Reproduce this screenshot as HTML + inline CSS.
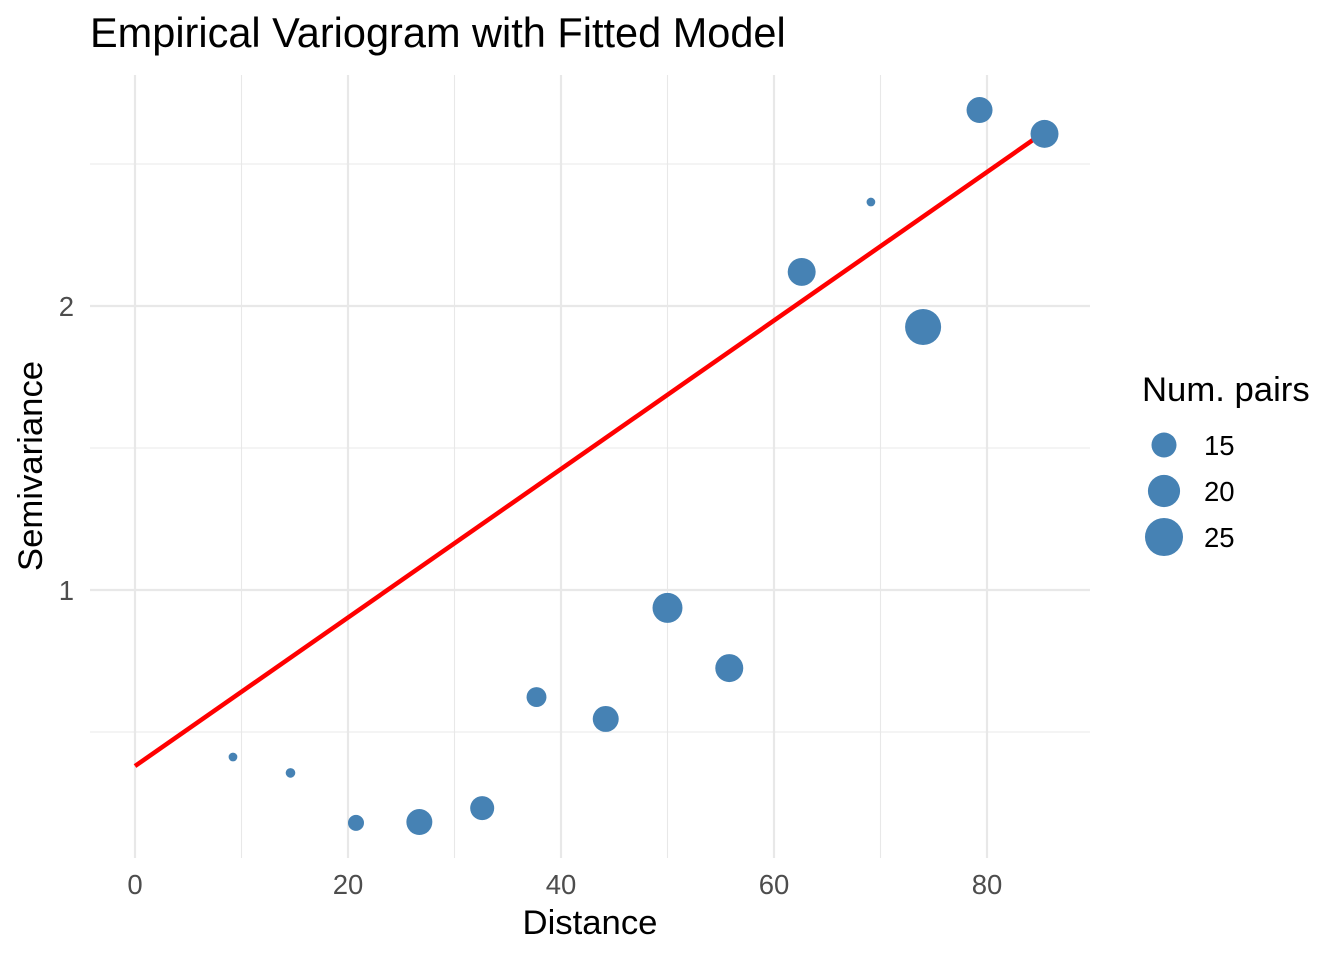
<!DOCTYPE html>
<html><head><meta charset="utf-8"><style>
html,body{margin:0;padding:0;background:#fff;}
svg text{font-family:"Liberation Sans",sans-serif;}
</style></head><body>
<svg id="chart" width="1344" height="960" xmlns="http://www.w3.org/2000/svg">
<text x="90" y="47" font-size="41.5" fill="#000">Empirical Variogram with Fitted Model</text>
<g id="grid"></g>
<g id="line"></g>
<g id="points"></g>
<g id="axes"></g>
<text x="590" y="934" font-size="34.7" text-anchor="middle" fill="#000">Distance</text>
<text transform="translate(42,466) rotate(-90)" font-size="34.7" text-anchor="middle" fill="#000">Semivariance</text>
<g id="legend">
<text x="1142" y="401" font-size="34.7" fill="#000">Num. pairs</text>
</g>
</svg>
<script>
const distances=[9.2,14.6,20.75,26.7,32.6,37.7,44.2,50.0,55.8,62.6,69.1,74.0,79.3,85.4];
const gammas=[0.412,0.356,0.18,0.183,0.232,0.623,0.546,0.937,0.725,2.12,2.366,1.926,2.69,2.606];
const pairs=[8.3,8.5,10.5,15.6,14.4,12.2,15.6,18.3,16.9,16.9,8.3,23.2,15.6,16.9];
const lineX=[0,85.4];
const lineY=[0.38,2.613];
const xTicks=[0,20,40,60,80];
const yTicks=[1,2];
const legendVals=[15,20,25];

const NS="http://www.w3.org/2000/svg";
const X=v=>135+v*10.65;
const Y=v=>874-v*284;
const R=n=>Math.sqrt(Math.max(20.5*n-151,4));
function mk(tag,attrs,parent){const e=document.createElementNS(NS,tag);for(const k in attrs)e.setAttribute(k,attrs[k]);document.getElementById(parent).appendChild(e);return e;}

for(let v=0;v<=90;v+=10){if(X(v)>1090)break;
 const g=mk('line',{x1:X(v),x2:X(v),y1:75,y2:858,stroke:'#e8e8e8','stroke-width':v%20===0?2.2:1.1},'grid');
 
 }
for(let v=0.5;v<=2.5;v+=0.5){
 const g=mk('line',{x1:90,x2:1090,y1:Y(v),y2:Y(v),stroke:'#e8e8e8','stroke-width':(v%1===0)?2.2:1.1},'grid');
 
 }
xTicks.forEach(t=>{const e=mk('text',{x:X(t),y:894,'font-size':27.5,fill:'#4d4d4d','text-anchor':'middle'},'axes');e.textContent=t;
 
 });
yTicks.forEach(t=>{const e=mk('text',{x:74,y:Y(t)+10,'font-size':27.5,fill:'#4d4d4d','text-anchor':'end'},'axes');e.textContent=t;
 
 });
const l=mk('line',{x1:X(lineX[0]),y1:Y(lineY[0]),x2:X(lineX[1]),y2:Y(lineY[1]),stroke:'#ff0000','stroke-width':4.5},'line');


distances.forEach((d,i)=>{const c=mk('circle',{cx:X(d),cy:Y(gammas[i]),r:R(pairs[i]),fill:'#4682b4'},'points');
 
 });
legendVals.forEach((v,i)=>{const cy=445+i*46;
 const c=mk('circle',{cx:1164,cy:cy,r:R(v),fill:'#4682b4'},'legend');
 
 
 const t=mk('text',{x:1204,y:cy+10,'font-size':27.5,fill:'#000'},'legend');t.textContent=v;
 
 });
</script>
</body></html>
